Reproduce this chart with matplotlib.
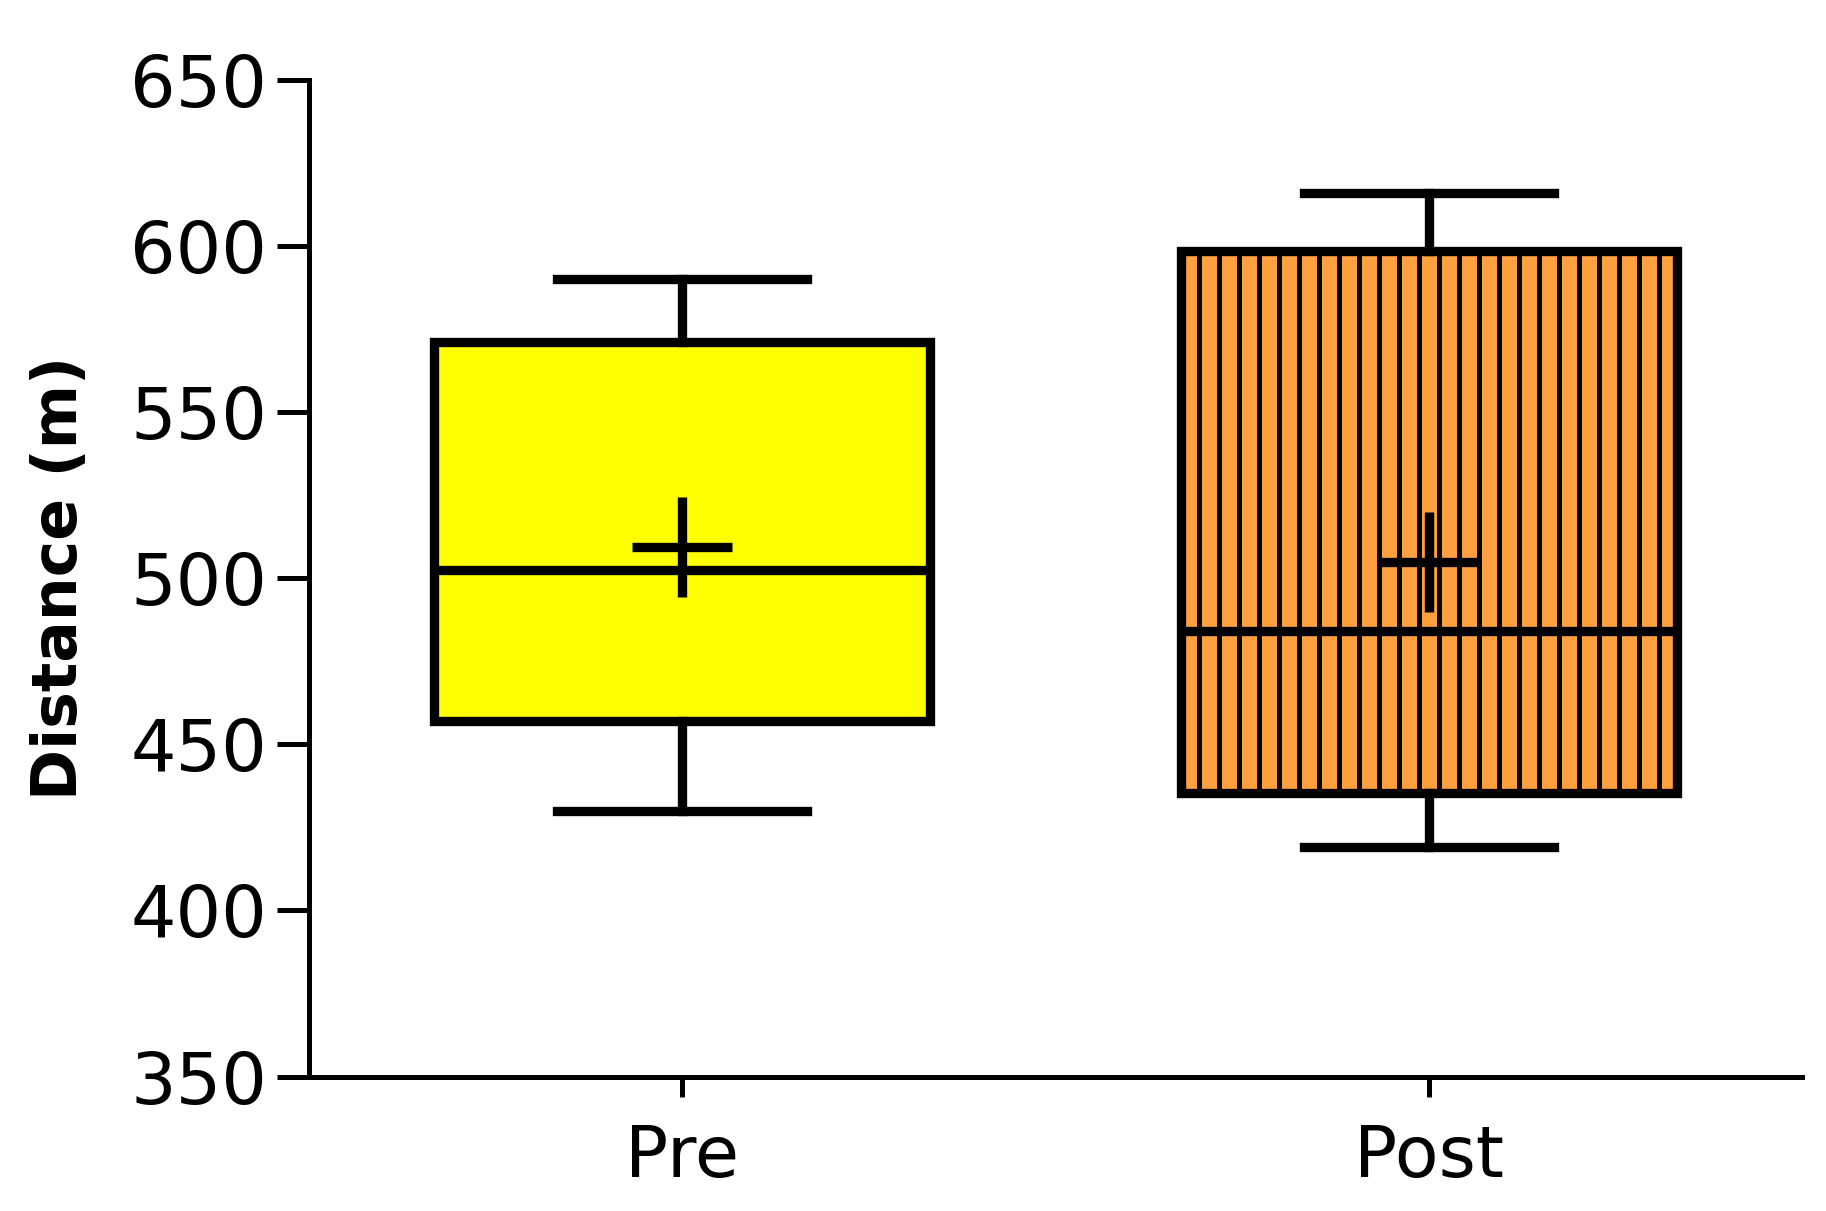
import matplotlib
matplotlib.use('Agg')
import matplotlib.pyplot as plt
import numpy as np

# five-number summaries + mean
groups = ['Pre', 'Post']
whisker_low = [430, 419]
q1 = [457, 435.5]
median = [502.5, 484]
q3 = [571, 598.5]
whisker_high = [590, 616]
means = [509.5, 505]

colors = ['#FFFF00', '#FFA040']
striped = [False, True]

DPI = 120
BOX_W = 0.664
N_STRIPES = 24
plt.rcParams['font.family'] = ['DejaVu Sans']

fig = plt.figure(figsize=(1826 / DPI, 1211 / DPI), dpi=DPI)
ax = fig.add_axes([0.169, 0.111, 0.818, 0.823])

stats = []
for i, name in enumerate(groups):
    stats.append(dict(label=name, whislo=whisker_low[i], q1=q1[i],
                      med=median[i], q3=q3[i], whishi=whisker_high[i],
                      mean=means[i], fliers=[]))

lw = 5.6
bp = ax.bxp(stats, positions=range(len(groups)), widths=BOX_W,
            patch_artist=True, showmeans=True, showfliers=False,
            boxprops=dict(linewidth=lw, edgecolor='black'),
            medianprops=dict(color='black', linewidth=lw),
            whiskerprops=dict(color='black', linewidth=lw),
            capprops=dict(color='black', linewidth=lw),
            capwidths=0.335,
            meanprops=dict(marker='+', markersize=60, markeredgewidth=lw,
                           markeredgecolor='black'))

for i, (box, c) in enumerate(zip(bp['boxes'], colors)):
    box.set_facecolor(c)
    if striped[i]:
        # vertical stripes inside the box, like a GraphPad fill pattern
        step = BOX_W / 24.8
        xs = i + (np.arange(N_STRIPES) - (N_STRIPES - 1) / 2) * step
        vl = ax.vlines(xs, q1[i], q3[i], colors='black', linewidth=3)
        vl.set_clip_path(box)

ax.set_xlim(-0.5, 1.5)
ax.set_ylim(350, 650)
ax.set_yticks(range(350, 651, 50))
ax.set_xticks(range(len(groups)))
ax.set_xticklabels(groups)

for side in ['top', 'right']:
    ax.spines[side].set_visible(False)
for side in ['left', 'bottom']:
    ax.spines[side].set_linewidth(3)

ax.tick_params(axis='y', length=19, width=3, labelsize=43, pad=6)
ax.tick_params(axis='x', length=12, width=3, labelsize=43, pad=16)
ax.set_ylabel('Distance (m)', fontsize=37, fontweight='bold', labelpad=24)

fig.savefig('out.png', dpi=DPI)
